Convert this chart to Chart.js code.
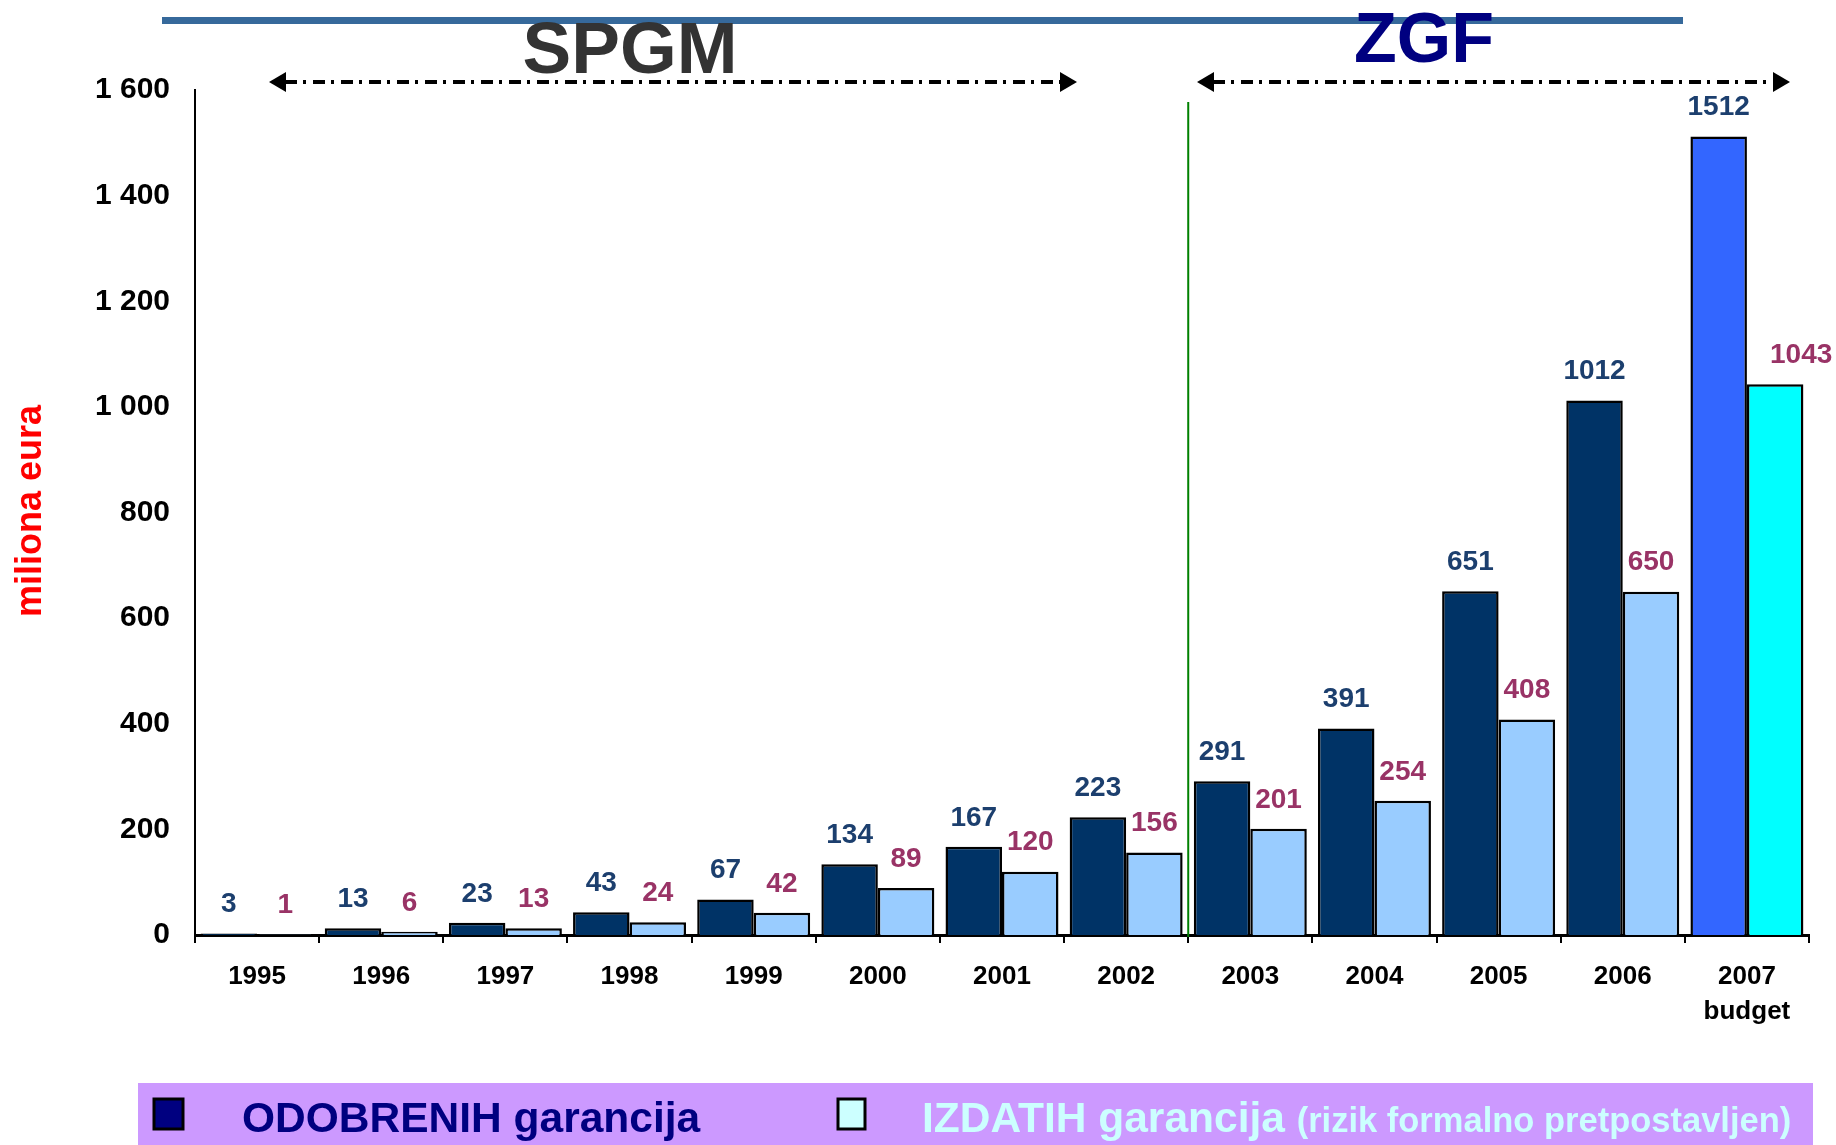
<!DOCTYPE html>
<html>
<head>
<meta charset="utf-8">
<script src="https://cdn.jsdelivr.net/npm/chart.js@4/dist/chart.umd.min.js"></script>
<style>
html,body{margin:0;padding:0;background:#fff;overflow:hidden;}
#wrap{position:relative;width:1836px;height:1145px;}
</style>
</head>
<body>
<div id="wrap"><canvas id="c" width="1836" height="1145"></canvas></div>
<script>
const categories = ['1995','1996','1997','1998','1999','2000','2001','2002','2003','2004','2005','2006',['2007','budget']];
const odobrenih = [3,13,23,43,67,134,167,223,291,391,651,1012,1512];
const izdatih = [1,6,13,24,42,89,120,156,201,254,408,650,1043];
const yMin = 0, yMax = 1600, yStep = 200;
const legendLabels = ['ODOBRENIH garancija','IZDATIH garancija','(rizik formalno pretpostavljen)'];
const yTitle = 'miliona eura';
const periodTitles = ['SPGM','ZGF'];

const FONT = '"Liberation Sans", Arial, sans-serif';
const last = categories.length - 1;
const darkColors = categories.map((c,i)=> i===last ? '#3366ff' : '#003366');
const lightColors = categories.map((c,i)=> i===last ? '#00ffff' : '#99ccff');

function fmt(v){ return String(v).replace(/\B(?=(\d{3})+(?!\d))/g,' '); }

function arrow(ctx, x1, x2, y){
  ctx.save();
  ctx.strokeStyle = '#000';
  ctx.fillStyle = '#000';
  ctx.lineWidth = 4;
  ctx.setLineDash([12,6,3,7]);
  ctx.beginPath();
  ctx.moveTo(x1+16, y); ctx.lineTo(x2-16, y);
  ctx.stroke();
  ctx.setLineDash([]);
  ctx.beginPath();
  ctx.moveTo(x1, y); ctx.lineTo(x1+17, y-10); ctx.lineTo(x1+17, y+10); ctx.closePath(); ctx.fill();
  ctx.beginPath();
  ctx.moveTo(x2, y); ctx.lineTo(x2-17, y-10); ctx.lineTo(x2-17, y+10); ctx.closePath(); ctx.fill();
  ctx.restore();
}

const decorPlugin = {
  id: 'decor',
  afterDraw(chart){
    const ctx = chart.ctx;
    const xs = chart.scales.x;
    const ys = chart.scales.y;
    ctx.save();
    // top blue line
    ctx.fillStyle = '#36699b';
    ctx.fillRect(162, 17, 1521, 7);
    // titles
    ctx.textAlign = 'center';
    ctx.textBaseline = 'alphabetic';
    ctx.font = 'bold 73px ' + FONT;
    ctx.fillStyle = '#333333';
    ctx.fillText(periodTitles[0], 630, 73);
    ctx.font = 'bold 70px ' + FONT;
    ctx.fillStyle = '#000080';
    ctx.fillText(periodTitles[1], 1424, 62);
    // arrows
    arrow(ctx, 269, 1077, 82);
    arrow(ctx, 1197, 1790, 82);
    // green separator between 2002 and 2003
    const gx = (xs.getPixelForValue(7) + xs.getPixelForValue(8)) / 2;
    ctx.strokeStyle = '#008000';
    ctx.lineWidth = 2;
    ctx.beginPath();
    ctx.moveTo(gx, 102); ctx.lineTo(gx, ys.getPixelForValue(0) + 2);
    ctx.stroke();
    // y title
    ctx.save();
    ctx.translate(31, 511);
    ctx.rotate(-Math.PI/2);
    ctx.font = 'bold 36px ' + FONT;
    ctx.fillStyle = '#ff0000';
    ctx.textAlign = 'center';
    ctx.textBaseline = 'middle';
    ctx.fillText(yTitle, 0, 0);
    ctx.restore();
    // data labels
    ctx.font = 'bold 28px ' + FONT;
    ctx.textAlign = 'center';
    ctx.textBaseline = 'middle';
    const labelColors = ['#1c3f6e', '#993366'];
    chart.data.datasets.forEach((ds, di) => {
      const meta = chart.getDatasetMeta(di);
      meta.data.forEach((bar, i) => {
        ctx.fillStyle = labelColors[di];
        const dx = (di === 1 && i === last) ? 26 : 0;
        ctx.fillText(String(ds.data[i]), bar.x + dx, bar.y - 29);
      });
    });
    // legend
    ctx.fillStyle = '#cc99ff';
    ctx.fillRect(138, 1083, 1675, 62);
    ctx.lineWidth = 3;
    ctx.strokeStyle = '#000';
    ctx.fillStyle = '#000080';
    ctx.fillRect(154, 1099, 29, 30);
    ctx.strokeRect(154, 1099, 29, 30);
    ctx.fillStyle = '#ccffff';
    ctx.fillRect(838, 1099, 27, 30);
    ctx.strokeRect(838, 1099, 27, 30);
    ctx.textAlign = 'left';
    ctx.textBaseline = 'alphabetic';
    ctx.font = 'bold 42.5px ' + FONT;
    ctx.fillStyle = '#000080';
    ctx.fillText(legendLabels[0], 242, 1132);
    ctx.fillStyle = '#ccffff';
    ctx.fillText(legendLabels[1], 922, 1132);
    const w1 = ctx.measureText(legendLabels[1] + ' ').width;
    ctx.font = 'bold 34.5px ' + FONT;
    ctx.fillText(legendLabels[2], 922 + w1, 1132);
    ctx.restore();
  }
};

new Chart(document.getElementById('c'), {
  type: 'bar',
  data: {
    labels: categories,
    datasets: [
      { label: legendLabels[0], data: odobrenih, backgroundColor: darkColors, borderColor: '#000', borderWidth: 2.5, borderSkipped: 'bottom', categoryPercentage: 0.91, barPercentage: 1.0 },
      { label: legendLabels[1], data: izdatih, backgroundColor: lightColors, borderColor: '#000', borderWidth: 2.5, borderSkipped: 'bottom', categoryPercentage: 0.91, barPercentage: 1.0 }
    ]
  },
  options: {
    responsive: false,
    animation: false,
    devicePixelRatio: 1,
    layout: { padding: { top: 90, right: 27, bottom: 100, left: 0 } },
    plugins: { legend: { display: false }, tooltip: { enabled: false } },
    scales: {
      x: {
        afterFit(s){ s.height = 110; },
        grid: { display: true, drawOnChartArea: false, drawTicks: true, tickLength: 8, color: '#000', lineWidth: 2, offset: true },
        border: { display: true, color: '#000', width: 3 },
        ticks: { color: '#000', font: { family: FONT, size: 26, weight: 'bold', lineHeight: 1.35 }, padding: 16, maxRotation: 0, autoSkip: false }
      },
      y: {
        min: yMin, max: yMax,
        afterFit(s){ s.width = 195; },
        grid: { display: false, drawTicks: false },
        border: { display: true, color: '#000', width: 2 },
        ticks: { stepSize: yStep, color: '#000', font: { family: FONT, size: 30, weight: 'bold' }, padding: 25, callback: v => fmt(v) }
      }
    }
  },
  plugins: [decorPlugin]
});
</script>
</body>
</html>
